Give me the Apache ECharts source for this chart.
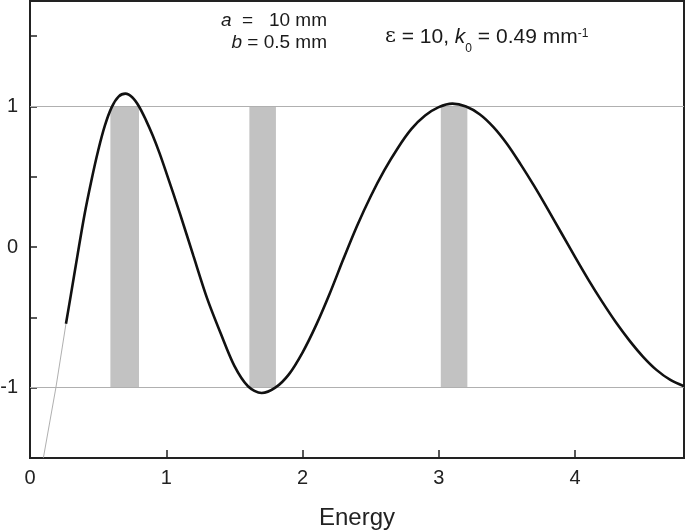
<!DOCTYPE html>
<html><head><meta charset="utf-8">
<script src="https://cdn.jsdelivr.net/npm/echarts@6/dist/echarts.min.js"></script>
<style>html,body{margin:0;padding:0;background:#fff}#c{width:685px;height:532px}</style>
</head><body><div id="c"></div>
<script>
// ---- data ----
const energy = [0.264,0.30,0.35,0.40,0.45,0.50,0.55,0.60,0.65,0.70,0.75,0.80,0.85,0.90,0.95,1.0,1.1,1.2,1.3,1.4,1.5,1.6,1.7,1.8,1.9,2.0,2.1,2.2,2.3,2.4,2.5,2.6,2.7,2.8,2.9,3.0,3.1,3.2,3.3,3.4,3.5,3.6,3.7,3.8,3.9,4.0,4.1,4.2,4.3,4.4,4.5,4.6,4.7,4.8];
const value  = [-0.545,-0.34,-0.05,0.23,0.47,0.685,0.865,0.995,1.07,1.091,1.065,1.0,0.905,0.795,0.67,0.53,0.24,-0.065,-0.365,-0.615,-0.845,-0.99,-1.038,-1.0,-0.905,-0.75,-0.555,-0.33,-0.085,0.15,0.36,0.545,0.705,0.84,0.935,0.995,1.02,1.0,0.945,0.855,0.735,0.59,0.435,0.27,0.10,-0.07,-0.235,-0.39,-0.535,-0.665,-0.78,-0.875,-0.945,-0.99];
const thinEnergy = [0.098, 0.19, 0.264];
const thinValue  = [-1.5, -1.0, -0.545];
const bandStart = [0.59, 1.61, 3.015];
const bandEnd   = [0.80, 1.805, 3.21];
const bandLow = -1, bandHigh = 1;
const refLevels = [1, -1];
const xTickLabels = [0, 1, 2, 3, 4];
const xTickMarks = [1, 2, 3, 4];
const yTickLabels = [-1, 0, 1];
const yTickMarks = [-1.5, -1, -0.5, 0, 0.5, 1, 1.5];

const FONT = 'Liberation Sans, Arial, Helvetica, sans-serif';
const chart = echarts.init(document.getElementById('c'), null, {renderer: 'canvas'});

const mainData = energy.map((e, i) => [e, value[i]]);
const thinData = thinEnergy.map((e, i) => [e, thinValue[i]]);
const bands = bandStart.map((s, i) => [{xAxis: s, yAxis: bandLow}, {xAxis: bandEnd[i], yAxis: bandHigh}]);

const T = {fontSize: 19, fontFamily: FONT, fill: '#1a1a1a'};
const I = {fontSize: 19, fontFamily: FONT, fontStyle: 'italic', fill: '#1a1a1a'};
const T2 = {fontSize: 21, fontFamily: FONT, fill: '#1a1a1a'};
const I2 = {fontSize: 21, fontFamily: FONT, fontStyle: 'italic', fill: '#1a1a1a'};

chart.setOption({
  animation: false,
  backgroundColor: '#fff',
  grid: {left: 30, top: 1, width: 654, height: 457, containLabel: false, outerBoundsMode: 'none',
    show: true, borderColor: '#222', borderWidth: 2, backgroundColor: 'transparent'},
  xAxis: {
    type: 'value', min: 0, max: 4.8, interval: 1,
    axisLine: {show: true, onZero: false, lineStyle: {color: '#222', width: 2}},
    axisTick: {show: true, inside: true, length: 8, customValues: xTickMarks, lineStyle: {color: '#222', width: 1.5}},
    axisLabel: {customValues: xTickLabels, fontSize: 20, color: '#222', margin: 10, fontFamily: FONT},
    splitLine: {show: false},
    name: 'Energy', nameLocation: 'middle', nameGap: 48,
    nameTextStyle: {fontSize: 24, color: '#222', fontFamily: FONT}
  },
  yAxis: {
    type: 'value', min: -1.5, max: 1.75, interval: 0.5,
    axisLine: {show: true, onZero: false, lineStyle: {color: '#222', width: 2}},
    axisTick: {show: true, inside: true, length: 7, customValues: yTickMarks, lineStyle: {color: '#222', width: 1.5}},
    axisLabel: {customValues: yTickLabels, fontSize: 20, color: '#222', margin: 12, fontFamily: FONT,
      formatter: v => String(v)},
    splitLine: {show: false}
  },
  series: [
    {
      type: 'line', data: [], z: 1,
      markArea: {silent: true, itemStyle: {color: '#c2c2c2'}, data: bands},
      markLine: {silent: true, symbol: ['none', 'none'], label: {show: false},
        lineStyle: {color: '#b0b0b0', width: 1, type: 'solid'},
        data: refLevels.map(v => ({yAxis: v}))}
    },
    {
      type: 'line', data: thinData, showSymbol: false, z: 3,
      lineStyle: {color: '#9a9a9a', width: 0.8}
    },
    {
      type: 'line', data: mainData, showSymbol: false, smooth: 0.3, z: 5,
      lineStyle: {color: '#111', width: 2.6}
    }
  ],
  graphic: [
    {type: 'text', z: 10, style: {x: 327, y: 21, align: 'right', verticalAlign: 'middle', text: '{i|a}{t|  =   10 mm}', rich: {t: T, i: I}}},
    {type: 'text', z: 10, style: {x: 327, y: 43, align: 'right', verticalAlign: 'middle', text: '{i|b}{t| = 0.5 mm}', rich: {t: T, i: I}}},
    {type: 'text', z: 10, style: {x: 385, y: 37, verticalAlign: 'middle',
      text: '{e|ε}{t| = 10, }{i|k}{sub|0}{t| = 0.49 mm}{sup|-1}',
      rich: {
        t: T2, i: I2,
        e: {fontSize: 21, fontFamily: 'DejaVu Serif, serif', fill: '#1a1a1a'},
        sub: {fontSize: 12, fontFamily: FONT, fill: '#1a1a1a', lineHeight: 12, padding: [24, 0, 0, 0]},
        sup: {fontSize: 12, fontFamily: FONT, fill: '#1a1a1a', lineHeight: 12, padding: [0, 0, 7, 0]}
      }}}
  ]
});
</script></body></html>
